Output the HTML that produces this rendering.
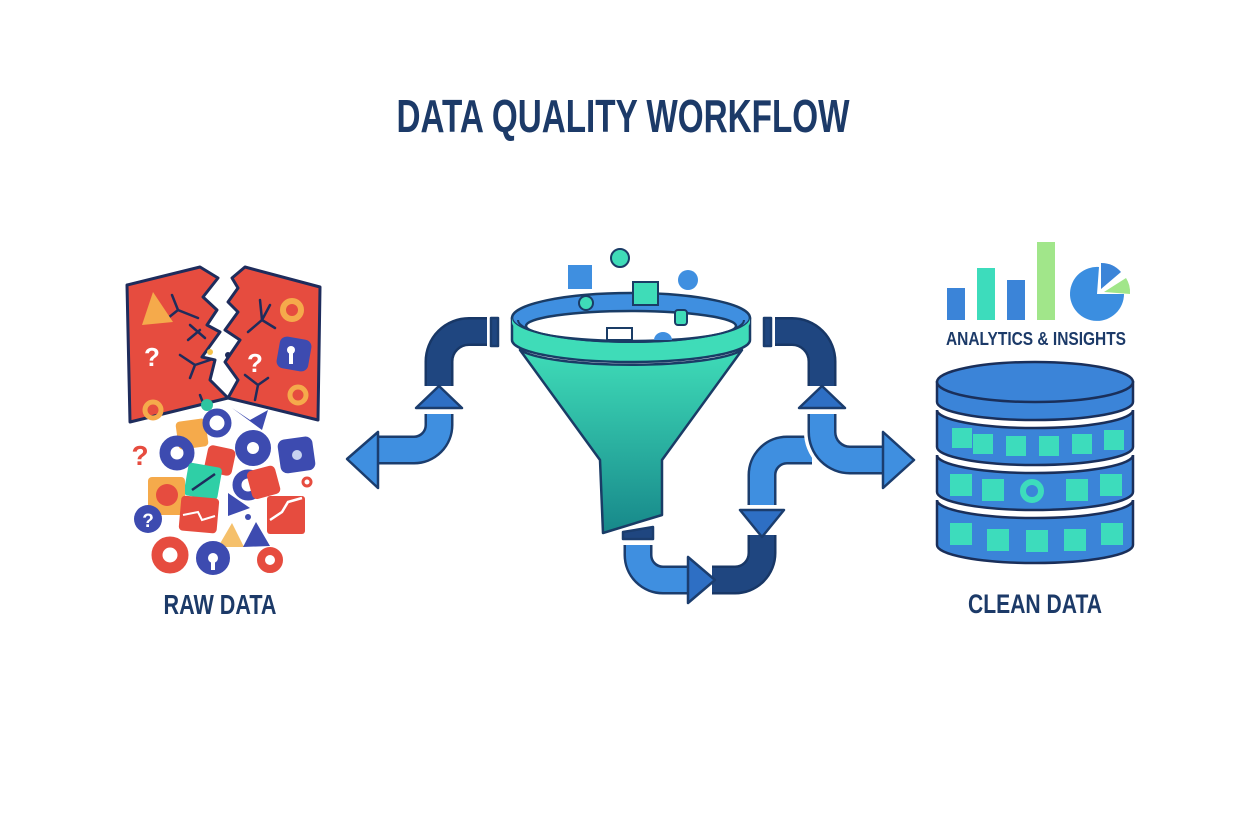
<!DOCTYPE html>
<html><head><meta charset="utf-8"><style>
html,body{margin:0;padding:0;background:#fff;}
svg{display:block;}
text{font-family:"Liberation Sans",sans-serif;font-weight:bold;fill:#1c3a68;}
</style></head><body>
<svg width="1248" height="832" viewBox="0 0 1248 832" xmlns="http://www.w3.org/2000/svg">
<defs>
<linearGradient id="cone" x1="0" y1="0" x2="0" y2="1">
<stop offset="0" stop-color="#3fdcb8"/><stop offset="1" stop-color="#17888a"/>
</linearGradient>
</defs>
<rect width="1248" height="832" fill="#fff"/>
<text x="623" y="132" font-size="46" text-anchor="middle" textLength="453" lengthAdjust="spacingAndGlyphs">DATA QUALITY WORKFLOW</text>

<!-- RAW DATA -->
<g stroke="#1e2c5c" stroke-width="3" stroke-linejoin="round">
<path d="M127,285 L200,267 L218,278 L203,297 L217,310 L207,325 L220,332 L202,357 L215,360 L210,380 L228,398 L130,422 Z" fill="#e64c3f"/>
<path d="M245,267 L320,287 L318,420 L228,398 L238,380 L225,362 L240,340 L225,330 L238,312 L228,302 L238,288 L232,278 Z" fill="#e64c3f"/>
</g>
<g stroke="#1e2c5c" stroke-width="2.5" fill="none" stroke-linecap="round">
<path d="M172,295 L178,310 L198,318 M178,310 L168,318"/>
<path d="M190,325 L205,338 M200,330 L188,340"/>
<path d="M180,355 L195,365 L190,378 M195,365 L210,360"/>
<path d="M260,300 L262,320 L248,332 M262,320 L275,328 M262,320 L270,305"/>
<path d="M245,375 L258,385 L255,400 M258,385 L268,378"/>
<path d="M200,395 L205,408"/>
</g>
<polygon points="142,325 153,292 173,322" fill="#f5aa4b"/>
<circle cx="292" cy="310" r="9" fill="none" stroke="#f5aa4b" stroke-width="6"/>
<circle cx="298" cy="395" r="8" fill="none" stroke="#f5aa4b" stroke-width="5"/>
<circle cx="153" cy="410" r="8" fill="none" stroke="#f5aa4b" stroke-width="5"/>
<rect x="278" y="338" width="32" height="32" rx="7" fill="#3d4bb0" transform="rotate(10 294 354)"/>
<circle cx="291" cy="350" r="4" fill="#fff"/><rect x="289" y="350" width="4" height="14" fill="#fff"/>
<text x="152" y="366" font-size="26" text-anchor="middle" style="fill:#fff">?</text>
<text x="255" y="372" font-size="26" text-anchor="middle" style="fill:#fff">?</text>
<circle cx="210" cy="352" r="3" fill="#f5c24b"/><circle cx="228" cy="355" r="3" fill="#1e2c5c"/>
<circle cx="207" cy="405" r="6" fill="#2ec4a0"/>

<!-- debris -->
<text x="140" y="465" font-size="28" text-anchor="middle" style="fill:#e64c3f">?</text>
<rect x="177" y="420" width="30" height="28" rx="4" fill="#f5aa4b" transform="rotate(-8 192 434)"/>
<circle cx="217" cy="423" r="11" fill="none" stroke="#3d4bb0" stroke-width="7"/>
<circle cx="177" cy="453" r="12" fill="none" stroke="#3d4bb0" stroke-width="11"/>
<rect x="206" y="447" width="28" height="27" rx="5" fill="#e64c3f" transform="rotate(12 220 460)"/>
<circle cx="253" cy="448" r="12" fill="none" stroke="#3d4bb0" stroke-width="12"/>
<path d="M232,408 L250,420 L268,410 L262,430 Z" fill="#3d4bb0"/>
<rect x="279" y="438" width="35" height="34" rx="7" fill="#3d4bb0" transform="rotate(-8 296 455)"/>
<circle cx="297" cy="455" r="5" fill="#c7d3f0"/>
<rect x="186" y="465" width="34" height="33" rx="4" fill="#2fcfa6" transform="rotate(10 203 481)"/>
<path d="M192,490 L215,474" stroke="#1e2c5c" stroke-width="2.5"/>
<rect x="148" y="477" width="37" height="38" rx="4" fill="#f5aa4b"/>
<circle cx="167" cy="495" r="11" fill="#e64c3f"/>
<rect x="180" y="497" width="38" height="35" rx="4" fill="#e64c3f" transform="rotate(5 199 514)"/>
<path d="M183,515 L198,512 L202,520 L215,516" stroke="#fff" stroke-width="2" fill="none"/>
<circle cx="248" cy="485" r="11" fill="none" stroke="#3d4bb0" stroke-width="9"/>
<rect x="249" y="468" width="29" height="29" rx="5" fill="#e64c3f" transform="rotate(-15 263 482)"/>
<rect x="267" y="496" width="38" height="38" rx="3" fill="#e64c3f"/>
<path d="M270,520 L282,512 L288,502 L302,498" stroke="#fff" stroke-width="2.5" fill="none"/>
<polygon points="228,493 228,516 250,508" fill="#3d4bb0"/>
<circle cx="248" cy="517" r="3" fill="#3d4bb0"/>
<circle cx="148" cy="519" r="14" fill="#3d4bb0"/>
<text x="148" y="527" font-size="19" text-anchor="middle" style="fill:#fff">?</text>
<polygon points="218,547 232,523 244,547" fill="#f5c06b"/>
<polygon points="243,547 256,522 270,546" fill="#3d4bb0"/>
<circle cx="307" cy="482" r="4" fill="none" stroke="#e64c3f" stroke-width="3"/>
<circle cx="170" cy="555" r="13" fill="none" stroke="#e64c3f" stroke-width="11"/>
<circle cx="213" cy="558" r="11" fill="none" stroke="#3d4bb0" stroke-width="12"/>
<rect x="211" y="558" width="4" height="12" fill="#fff"/>
<circle cx="270" cy="560" r="9" fill="none" stroke="#e64c3f" stroke-width="8"/>
<text x="220" y="614" font-size="28" text-anchor="middle" textLength="113" lengthAdjust="spacingAndGlyphs">RAW DATA</text>

<!-- PIPES -->
<g fill="none" stroke-linecap="butt" stroke-linejoin="round">
<path d="M487,331.5 H469 A30,30 0 0 0 439,361.5 V386" stroke="#183766" stroke-width="29"/>
<path d="M487,331.5 H469 A30,30 0 0 0 439,361.5 V386" stroke="#1f4680" stroke-width="24"/>
<path d="M439,414 V425 A25,25 0 0 1 414,450 H376" stroke="#1b3d6e" stroke-width="29"/>
<path d="M439,414 V425 A25,25 0 0 1 414,450 H376" stroke="#3f8fe0" stroke-width="24"/>
<path d="M775,331.5 H792 A30,30 0 0 1 822,361.5 V386" stroke="#183766" stroke-width="29"/>
<path d="M775,331.5 H792 A30,30 0 0 1 822,361.5 V386" stroke="#1f4680" stroke-width="24"/>
<path d="M762,505 V475 A25,25 0 0 1 787,450 H812" stroke="#fff" stroke-width="35"/>
<path d="M762,505 V475 A25,25 0 0 1 787,450 H812" stroke="#1b3d6e" stroke-width="29"/>
<path d="M762,505 V475 A25,25 0 0 1 787,450 H812" stroke="#3f8fe0" stroke-width="24"/>
<path d="M822,414 V432 A28,28 0 0 0 850,460 H885" stroke="#fff" stroke-width="36"/>
<path d="M822,414 V432 A28,28 0 0 0 850,460 H885" stroke="#1b3d6e" stroke-width="29"/>
<path d="M822,414 V432 A28,28 0 0 0 850,460 H885" stroke="#3f8fe0" stroke-width="24"/>
<path d="M638,545 V555 A25,25 0 0 0 663,580 H689" stroke="#1b3d6e" stroke-width="29"/>
<path d="M638,545 V555 A25,25 0 0 0 663,580 H689" stroke="#3f8fe0" stroke-width="24"/>
<path d="M712,580 H735 A27,27 0 0 0 762,553 V535" stroke="#183766" stroke-width="29"/>
<path d="M712,580 H735 A27,27 0 0 0 762,553 V535" stroke="#1f4680" stroke-width="24"/>
</g>
<g stroke="#1b3d6e" stroke-width="2.5" stroke-linejoin="round">
<rect x="491" y="318" width="7" height="28" fill="#1f4680"/>
<rect x="764" y="318" width="7" height="28" fill="#1f4680"/>
<polygon points="378,432 378,488 347,459" fill="#3f8fe0"/>
<polygon points="883,432 883,488 914,460" fill="#3f8fe0"/>
<polygon points="416,408 462,408 439,386" fill="#2e6fc4"/>
<polygon points="799,408 845,408 822,386" fill="#2e6fc4"/>
<polygon points="688,557 688,603 715,580" fill="#2e6fc4"/>
<polygon points="740,510 784,510 762,537" fill="#2e6fc4"/>
<polygon points="623,532 653,527 653,539 623,539" fill="#1f4680"/>
</g>

<!-- FUNNEL -->
<g stroke="#1a3c66" stroke-width="2.5" stroke-linejoin="round">
<path d="M520,350 A115,20 0 0 0 742,350 L662,460 L662,515 L603,533 L600,460 Z" fill="url(#cone)"/>
<path d="M512,318 V340 A119,22 0 0 0 750,340 V318 Z" fill="#3fdcb8"/>
<ellipse cx="631" cy="318" rx="119" ry="25" fill="#3f8fe0"/>
<ellipse cx="631" cy="326" rx="105" ry="15" fill="#fff"/>
<path d="M512,318 A119,25 0 0 0 750,318 L750,322 A119,25 0 0 1 512,322 Z" fill="#3fdcb8" stroke="none"/>
</g>
<path d="M518,320 A113,22 0 0 0 744,320" fill="none" stroke="#1a3c66" stroke-width="2"/>
<rect x="607" y="328" width="25" height="12" fill="#fff" stroke="#1a3c66" stroke-width="2"/>
<path d="M654,340 A9,8 0 0 1 672,340 Z" fill="#3f8fe0"/>
<rect x="568" y="265" width="24" height="24" fill="#3f8fe0"/>
<circle cx="620" cy="258" r="9" fill="#3fdcb8" stroke="#1a3c66" stroke-width="2"/>
<circle cx="688" cy="280" r="10" fill="#3f8fe0"/>
<rect x="633" y="282" width="25" height="23" fill="#3fdcb8" stroke="#1a3c66" stroke-width="2"/>
<circle cx="586" cy="303" r="7" fill="#3fdcb8" stroke="#1a3c66" stroke-width="2"/>
<rect x="675" y="310" width="12" height="15" rx="3" fill="#3fdcb8" stroke="#1a3c66" stroke-width="2"/>

<!-- ANALYTICS -->
<rect x="947" y="288" width="18" height="32" fill="#3b84d8"/>
<rect x="977" y="268" width="18" height="52" fill="#3ddcbc"/>
<rect x="1007" y="280" width="18" height="40" fill="#3b84d8"/>
<rect x="1037" y="242" width="18" height="78" fill="#a1e68a"/>
<path d="M1097,294 L1124,294 A27,27 0 1 1 1099,267 Z" fill="#3b8ee0"/>
<path d="M1101,289 L1101,263 A26,26 0 0 1 1121,272 Z" fill="#3b84d8"/>
<path d="M1104,292 L1126,278 A26,26 0 0 1 1130,294 Z" fill="#a1e68a"/>
<text x="1036" y="345" font-size="18" text-anchor="middle" textLength="180" lengthAdjust="spacingAndGlyphs">ANALYTICS &amp; INSIGHTS</text>

<!-- DB -->
<g stroke="#1a2f5a" stroke-width="2.5" fill="#3b84d8">
<path d="M937,500 A98,18 0 0 0 1133,500 V545 A98,18 0 0 1 937,545 Z"/>
<path d="M937,455 A98,18 0 0 0 1133,455 V492 A98,18 0 0 1 937,492 Z"/>
<path d="M937,410 A98,18 0 0 0 1133,410 V447 A98,18 0 0 1 937,447 Z"/>
<path d="M937,382 V402 A98,18 0 0 0 1133,402 V382 Z"/>
<ellipse cx="1035" cy="382" rx="98" ry="20"/>
</g>
<g fill="#3ddcbc">
<rect x="952" y="428" width="20" height="20"/><rect x="973" y="434" width="20" height="20"/>
<rect x="1006" y="436" width="20" height="20"/><rect x="1039" y="436" width="20" height="20"/>
<rect x="1072" y="434" width="20" height="20"/><rect x="1104" y="430" width="20" height="20"/>
<rect x="950" y="474" width="22" height="22"/><rect x="982" y="479" width="22" height="22"/>
<rect x="1066" y="479" width="22" height="22"/><rect x="1100" y="474" width="22" height="22"/>
<rect x="950" y="523" width="22" height="22"/><rect x="987" y="529" width="22" height="22"/>
<rect x="1026" y="530" width="22" height="22"/><rect x="1064" y="529" width="22" height="22"/>
<rect x="1101" y="523" width="22" height="22"/>
</g>
<circle cx="1032" cy="491" r="9" fill="none" stroke="#3ddcbc" stroke-width="6"/>
<text x="1035" y="613" font-size="27" text-anchor="middle" textLength="134" lengthAdjust="spacingAndGlyphs">CLEAN DATA</text>
</svg>
</body></html>
